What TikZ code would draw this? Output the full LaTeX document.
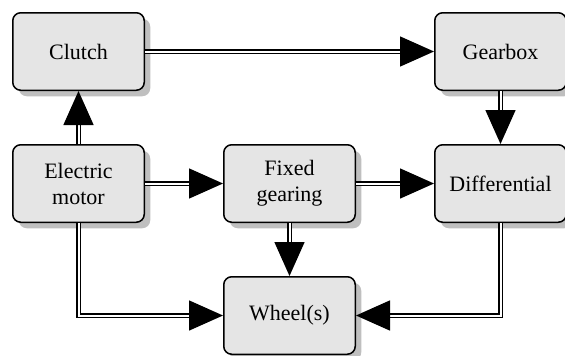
\documentclass[tikz,border=0pt]{standalone}
\usepackage{fontspec}
\setmainfont{Liberation Serif}
\usetikzlibrary{positioning,shadows,arrows.meta}
\tikzset{
  unit/.style={draw,line width=1.5pt,rounded corners=8pt,fill=black!10,
    minimum width=131.5pt,minimum height=77.5pt,align=center,
    font=\fontsize{22}{26}\selectfont,
    drop shadow={shadow xshift=6pt,shadow yshift=-6pt,fill=black!25,opacity=1}},
  link/.style={draw,line width=1.5pt,double,double distance=2pt,
    -{Triangle[length=34pt,width=30pt]}}
}
\begin{document}
\begin{tikzpicture}[x=1pt,y=1pt,node distance=53pt and 78pt]
  \useasboundingbox (0,0) rectangle (565,-356);
  \node[unit] (clutch) at (78.5,-51.5) {Clutch};
  \node[unit,below=of clutch] (motor) {Electric\\motor};
  \node[unit,right=of motor] (gearing) {Fixed\\gearing};
  \node[unit,right=of gearing] (diff) {Differential};
  \node[unit,above=of diff] (gearbox) {Gearbox};
  \node[unit,below=of gearing] (wheel) {Wheel(s)};
  \draw[link] (clutch) -- (gearbox);
  \draw[link] (motor) -- (clutch);
  \draw[link] (gearbox) -- (diff);
  \draw[link] (motor) -- (gearing);
  \draw[link] (gearing) -- (diff);
  \draw[link] (gearing) -- (wheel);
  \draw[link] (motor.south) |- (wheel.west);
  \draw[link] (diff.south) |- (wheel.east);
\end{tikzpicture}
\end{document}
